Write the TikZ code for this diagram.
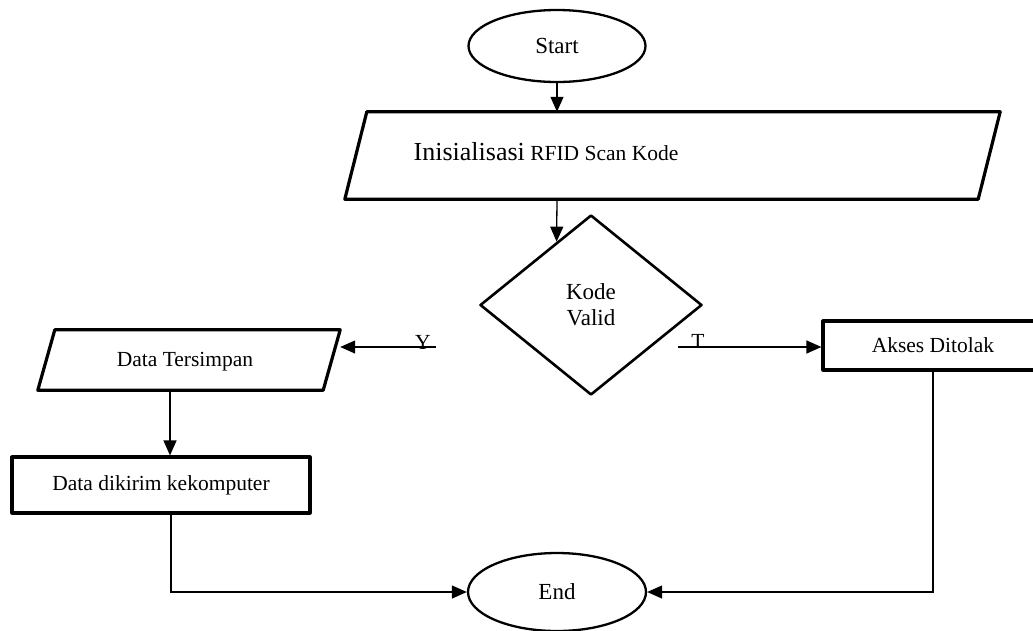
\documentclass[tikz,border=0pt]{standalone}
\usepackage{fontspec}
\setmainfont{Liberation Serif}
\usetikzlibrary{shapes.geometric,arrows.meta,calc}
\begin{document}
\begin{tikzpicture}[x=1pt,y=-1pt,>={Triangle[length=15pt,width=13pt]},
    terminal/.style={ellipse,draw,line width=2.3pt,inner sep=0pt},
    iobody/.style={rectangle,inner sep=0pt},
    iobox/.style={draw,line width=3.2pt,line join=round},
    procbox/.style={rectangle,draw,line width=3.2pt,inner sep=0pt,line join=round},
    decision/.style={diamond,draw,line width=2.6pt,inner sep=0pt,line join=round},
    flow/.style={line width=1.3pt},
    txt/.style={font=\fontsize{21.5}{26}\selectfont}]
      \useasboundingbox (0,0) rectangle (1033,630) ;
      \node[terminal,minimum width=177pt,minimum height=72pt,font=\fontsize{23}{28}\selectfont] (start) at (557,46) {Start} ;
      \node[iobody,minimum width=633pt,minimum height=87pt] (init) at (683.5,155.5) {} ;
      \draw[iobox] ([xshift=-22pt]init.south west) -- (init.north west) -- (init.north east) -- ([xshift=-22pt]init.south east) -- cycle ;
      \node[txt] (inittxt) at (546,152) {{\fontsize{26}{30}\selectfont Inisialisasi} RFID Scan Kode} ;
      \node[decision,minimum width=222pt,minimum height=180pt,align=center,font=\fontsize{23}{26}\selectfont] (valid) at (591,305) {Kode\\Valid} ;
      \node[iobody,minimum width=285pt,minimum height=60pt] (simpan) at (197.5,360) {} ;
      \draw[iobox] ([xshift=-17pt]simpan.south west) -- (simpan.north west) -- (simpan.north east) -- ([xshift=-17pt]simpan.south east) -- cycle ;
      \node[txt] (simpantxt) at (185,362) {Data Tersimpan} ;
      \node[procbox,minimum width=298pt,minimum height=56pt,txt] (kirim) at (161,485) {Data dikirim kekomputer} ;
      \node[procbox,minimum width=220pt,minimum height=49pt,txt] (tolak) at (933,345.5) {Akses Ditolak} ;
      \node[terminal,minimum width=178pt,minimum height=78pt,font=\fontsize{23}{28}\selectfont] (end) at (557,592) {End} ;
      \coordinate (ystart) at (436,347) ;
      \coordinate (tstart) at (678,347) ;
      \draw[flow,->] (start.south) -- (start.south |- init.north) ;
      \draw[flow,->] (start.south |- init.south) -- ($(valid.north)!0.3063!(valid.west)$) ;
      \draw[flow,->] (ystart) -- (ystart -| simpan.east) ;
      \draw[flow,->] (tstart) -- (tstart -| tolak.west) ;
      \node[txt,anchor=base] (ylabel) at (423,349) {Y} ;
      \node[txt,anchor=base] (tlabel) at (698,348) {T} ;
      \draw[flow,->] ([xshift=-27.5pt]simpan.south) -- ([xshift=-27.5pt]simpan.south |- kirim.north) ;
      \draw[flow,->] ([xshift=10pt]kirim.south) |- (end.west) ;
      \draw[flow,->] (tolak.south) |- (end.east) ;
    \end{tikzpicture}
\end{document}
